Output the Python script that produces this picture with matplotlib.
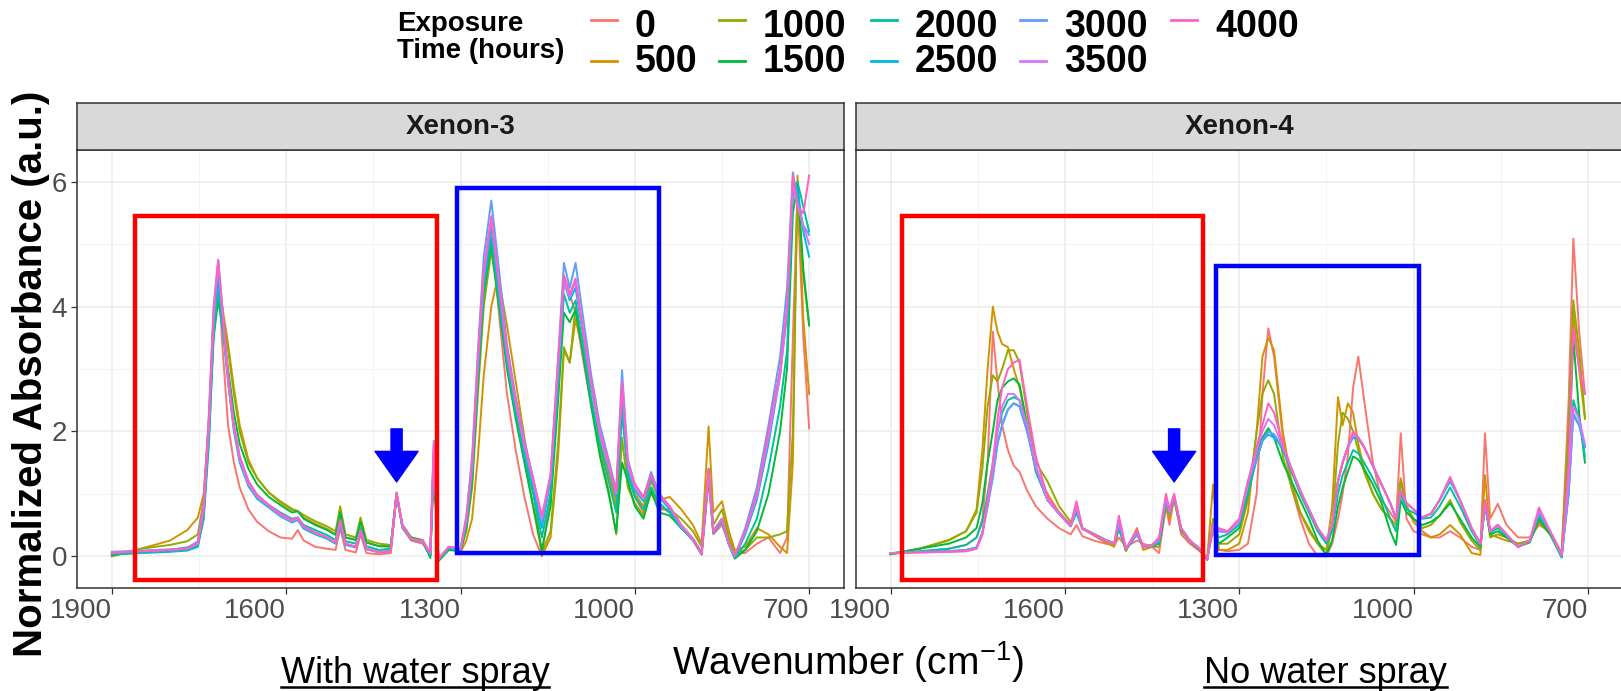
import numpy as np
import matplotlib.pyplot as plt
from matplotlib.lines import Line2D
from matplotlib.patches import Rectangle

plt.rcParams['font.family'] = ['Liberation Sans', 'DejaVu Sans']
plt.rcParams['mathtext.default'] = 'regular'

W, H = 1621, 691

# exposure times and ggplot hue colours
times = ['0', '500', '1000', '1500', '2000', '2500', '3000', '3500', '4000']
colors = ['#F8766D', '#D39200', '#93AA00', '#00BA38', '#00C19F',
          '#00B9E3', '#619CFF', '#DB72FB', '#FF61C3']
panels = ['Xenon-3', 'Xenon-4']
captions = ['With water spray', 'No water spray']

# ---- Xenon-3 (with water spray) ----
wn_x3 = [1900,1850,1800,1770,1752,1742,1733,1725,1717,1710, 1700,1690,1680,1665,1650,1630,1610,1590,1580,1570,
         1550,1530,1515,1507,1498,1480,1472,1462,1440,1420, 1410,1400,1385,1365,1352,1346,1338,1320,1300,1290,
         1280,1270,1260,1247,1235,1220,1205,1190,1175,1160, 1145,1132,1122,1112,1102,1090,1075,1060,1045,1032,
         1022,1012,1000,985,972,958,940,920,900,885, 873,865,850,838,828,810,790,770,750,738,
         728,720,710,700]
x3_0 = [.04,.07,.09,.11,.18,.6,2.0,3.8,4.6,3.4, 2.1,1.5,1.1,.75,.55,.4,.3,.28,.42,.25,
        .15,.12,.1,.45,.1,.06,.35,.05,.03,.05, .98,.45,.25,.2,.02,1.7,-.05,.12,.1,.55,
        1.4,3.0,4.4,5.2,4.0,2.6,1.7,.95,.35,.0, 1.0,2.9,4.5,4.2,3.9,3.2,2.4,1.8,1.3,.9,
        2.5,1.3,.95,.7,1.0,.8,.7,.45,.25,.02, 1.2,.35,.5,.2,.05,.05,.2,.3,.05,.3,
        3.5,5.8,3.5,2.05]
x3_500 = [.0,.12,.25,.42,.62,1.0,2.2,3.6,4.3,4.0, 3.4,2.7,2.1,1.55,1.25,1.02,.86,.74,.72,.62,
          .52,.44,.35,.7,.3,.26,.55,.22,.16,.15, 1.0,.48,.3,.25,.0,1.6,-.05,.12,.06,.25,
          .6,1.6,2.9,4.0,4.5,3.7,2.8,1.9,1.1,.0, .3,1.6,3.3,3.1,3.8,3.3,2.5,1.8,1.3,.8,
          2.5,1.3,1.0,.8,1.2,.9,.95,.75,.5,.2, 2.08,.7,.88,.4,.1,.15,.45,.35,.15,.05,
          1.5,6.1,3.8,2.6]
x3_1000 = [.0,.12,.18,.24,.35,.9,2.1,3.6,4.25,3.9, 3.3,2.6,2.0,1.5,1.25,1.02,.88,.76,.72,.66,
           .56,.48,.4,.8,.35,.3,.62,.26,.2,.18, 1.02,.5,.3,.26,.0,1.5,-.06,.12,.08,.4,
           1.1,2.6,4.0,4.9,4.1,3.1,2.3,1.55,.8,.05, .4,1.8,3.35,3.1,4.0,3.4,2.5,1.7,1.05,.35,
           1.9,1.1,.85,.65,1.1,.75,.75,.6,.4,.15, 1.4,.5,.75,.3,.05,.1,.3,.3,.35,.4,
           2.0,6.0,4.5,3.7]
x3_1500 = [.02,.06,.10,.14,.22,.7,1.9,3.5,4.1,3.7, 3.0,2.3,1.8,1.4,1.15,.95,.82,.7,.72,.6,
           .5,.42,.34,.7,.3,.26,.55,.22,.16,.16, 1.0,.5,.3,.25,-.03,1.4,-.08,.1,.08,.45,
           1.2,2.8,4.2,5.0,4.1,3.0,2.2,1.5,.8,.1, .8,2.5,3.9,3.75,3.95,3.3,2.4,1.6,1.0,.38,
           1.5,1.2,.8,.6,1.05,.7,.65,.45,.28,.06, 1.3,.4,.6,.2,-.04,.1,.4,1.0,2.0,3.0,
           5.5,5.95,4.6,3.7]
x3_2000 = [.03,.05,.07,.09,.15,.6,1.8,3.5,4.3,3.7, 2.8,2.05,1.55,1.2,.98,.82,.7,.6,.62,.5,
           .42,.34,.26,.6,.24,.2,.45,.16,.1,.12, 1.0,.48,.28,.24,.0,1.5,-.06,.12,.1,.5,
           1.3,2.9,4.3,5.1,4.2,3.1,2.3,1.6,1.0,.3, 1.0,2.7,4.2,3.9,4.1,3.4,2.5,1.8,1.2,.7,
           2.3,1.3,.95,.75,1.1,.85,.7,.45,.26,.04, 1.3,.38,.55,.18,-.03,.2,.6,1.4,2.4,3.3,
           5.9,6.0,5.6,5.2]
x3_2500 = [.05,.07,.08,.10,.18,.7,2.0,3.7,4.5,3.8, 2.8,2.0,1.5,1.12,.92,.78,.64,.54,.58,.44,
           .35,.28,.2,.5,.18,.14,.38,.11,.06,.08, .98,.46,.27,.23,.04,1.6,-.05,.14,.1,.55,
           1.4,3.0,4.4,5.3,4.3,3.2,2.4,1.7,1.1,.45, 1.2,2.9,4.4,4.1,4.3,3.6,2.7,1.95,1.4,.95,
           2.6,1.4,1.05,.88,1.25,.95,.75,.46,.26,.04, 1.3,.38,.56,.18,-.02,.35,.9,1.8,2.9,3.9,
           5.8,5.9,5.2,4.8]
x3_3000 = [.07,.09,.11,.13,.24,.85,2.3,4.0,4.75,4.0, 2.9,2.1,1.6,1.2,.98,.82,.68,.58,.62,.48,
           .38,.3,.22,.55,.2,.15,.4,.12,.07,.09, 1.0,.48,.28,.24,.05,1.85,-.04,.15,.12,.65,
           1.6,3.3,4.8,5.7,4.7,3.4,2.55,1.85,1.25,.55, 1.3,3.2,4.7,4.3,4.7,3.9,2.9,2.1,1.55,1.05,
           2.98,1.55,1.15,.95,1.35,1.0,.8,.5,.28,.05, 1.4,.4,.6,.2,.0,.45,1.1,2.1,3.2,4.3,
           6.15,5.7,5.3,5.15]
x3_3500 = [.06,.08,.10,.12,.20,.75,2.1,3.8,4.7,3.9, 2.8,2.05,1.55,1.15,.95,.8,.66,.56,.6,.47,
           .37,.3,.22,.56,.2,.15,.4,.12,.06,.08, 1.0,.48,.28,.24,.05,1.7,-.04,.15,.12,.58,
           1.45,3.1,4.5,5.4,4.45,3.25,2.45,1.75,1.2,.6, 1.25,3.0,4.4,4.15,4.4,3.65,2.75,1.95,1.45,1.0,
           2.75,1.45,1.1,.92,1.3,.98,.78,.48,.27,.05, 1.35,.4,.58,.2,.0,.4,.95,1.9,2.9,3.9,
           6.0,5.6,5.3,5.0]
x3_4000 = [.05,.08,.10,.12,.22,.8,2.2,3.9,4.75,4.0, 2.9,2.1,1.6,1.2,.98,.82,.68,.58,.62,.48,
           .38,.3,.22,.58,.2,.15,.42,.12,.06,.08, 1.02,.5,.28,.25,.05,1.8,-.05,.15,.12,.6,
           1.5,3.2,4.6,5.45,4.5,3.3,2.5,1.8,1.25,.65, 1.3,3.1,4.5,4.2,4.45,3.7,2.8,2.0,1.5,1.05,
           2.8,1.5,1.15,.95,1.3,1.0,.8,.5,.28,.05, 1.4,.4,.6,.2,.0,.4,1.0,2.0,3.0,4.0,
           6.1,5.6,5.5,6.1]

# ---- Xenon-4 (no water spray) ----
wn_x4 = [1900,1850,1800,1770,1752,1742,1733,1724,1716,1708, 1698,1688,1678,1665,1650,1630,1610,1590,1580,1570,
         1550,1530,1515,1507,1495,1476,1465,1450,1438,1426, 1420,1412,1400,1385,1368,1355,1345,1335,1320,1300,
         1285,1270,1260,1250,1240,1225,1210,1195,1180,1165, 1150,1140,1130,1122,1113,1104,1095,1085,1070,1055,
         1040,1030,1022,1012,1000,985,970,955,937,920, 900,885,877,868,855,840,820,800,784,765,
         745,733,725,715,705]
x4_0 = [.04,.07,.12,.18,.3,.6,1.5,3.6,2.8,2.1, 1.7,1.45,1.35,1.05,.8,.6,.45,.35,.5,.32,
        .25,.2,.18,.3,.15,.25,.2,.15,.05,.8, .5,.95,.35,.2,.08,-.03,.4,.1,.08,.1,
        .2,1.0,2.6,3.65,3.2,1.9,1.1,.6,.2,.0, .0,.2,.6,1.0,1.6,2.7,3.2,2.5,1.5,.9,
        .7,.55,1.97,.6,.4,.35,.3,.3,.4,.3, .15,.1,1.97,.6,.84,.5,.3,.3,.5,.4,
        .05,2.5,5.09,3.6,2.6]
x4_500 = [.03,.12,.25,.4,.75,1.7,3.0,4.0,3.6,3.4, 3.35,3.0,2.7,2.1,1.4,1.0,.7,.5,.85,.45,
          .33,.22,.15,.45,.08,.45,.1,.15,.15,.8, .6,.9,.4,.25,.1,-.04,1.15,.1,.1,.2,
          .7,2.0,3.2,3.5,3.3,2.0,1.2,.7,.4,.2, .1,.8,2.55,2.1,2.45,2.3,1.8,1.4,1.0,.75,
          .6,.5,1.25,.8,.55,.4,.3,.35,.5,.35, .05,.02,1.3,.35,.3,.25,.2,.25,.55,.35,
          .05,2.0,3.9,3.0,2.2]
x4_1000 = [.03,.12,.26,.4,.7,1.4,2.4,2.9,2.8,3.0, 3.3,3.3,3.1,2.3,1.5,1.2,.8,.55,.75,.45,
           .36,.26,.2,.5,.1,.4,.15,.18,.2,.85, .7,.95,.42,.25,.1,-.05,.6,.2,.2,.35,
           .9,2.0,2.6,2.82,2.6,1.6,1.1,.7,.45,.2, .02,.5,1.8,2.3,2.2,2.0,1.7,1.35,1.0,.75,
           .6,.4,1.2,.8,.6,.45,.5,.65,.9,.55, .25,.1,.9,.3,.35,.3,.2,.25,.55,.35,
           .05,2.0,4.1,3.3,2.23]
x4_1500 = [.04,.12,.2,.3,.45,.85,1.5,2.0,2.5,2.7, 2.8,2.85,2.75,2.1,1.35,.9,.7,.5,.7,.45,
           .35,.25,.2,.45,.1,.35,.15,.16,.2,.85, .7,.95,.42,.24,.1,-.06,.5,.2,.3,.45,
           1.0,1.6,1.9,2.05,1.9,1.5,1.2,.9,.6,.25, .02,.25,.8,1.1,1.35,1.6,1.55,1.4,1.15,.85,
           .4,.18,.9,.7,.6,.5,.55,.65,.85,.6, .3,.15,.8,.35,.4,.3,.15,.22,.6,.35,
           -.02,1.5,3.5,2.3,1.5]
x4_2000 = [.04,.08,.12,.18,.3,.55,1.0,1.5,2.0,2.3, 2.5,2.55,2.5,2.05,1.4,.9,.68,.48,.7,.44,
           .34,.25,.2,.45,.12,.35,.15,.17,.2,.85, .7,.95,.44,.25,.12,-.05,.5,.3,.35,.5,
           1.0,1.55,1.85,2.0,1.95,1.7,1.35,1.0,.7,.4, .2,.4,1.0,1.3,1.5,1.7,1.65,1.5,1.25,.95,
           .6,.4,1.0,.75,.7,.6,.62,.8,1.1,.8, .4,.18,.8,.38,.45,.32,.15,.25,.65,.38,
           -.02,1.1,2.5,2.2,1.6]
x4_2500 = [.05,.07,.08,.1,.14,.38,.8,1.3,1.8,2.1, 2.35,2.45,2.4,2.0,1.4,.9,.68,.48,.75,.44,
           .35,.26,.21,.5,.12,.35,.15,.18,.25,.9, .7,.95,.45,.25,.12,-.04,.5,.4,.38,.55,
           1.15,1.55,1.85,1.95,1.9,1.75,1.4,1.05,.75,.45, .25,.5,1.2,1.5,1.75,1.9,1.88,1.75,1.45,1.15,
           .85,.6,1.05,.85,.75,.62,.68,.9,1.2,.9, .45,.2,.85,.4,.5,.35,.15,.25,.7,.4,
           .0,1.0,2.25,2.1,1.75]
x4_3000 = [.05,.07,.08,.1,.14,.38,.8,1.25,1.8,2.1, 2.35,2.45,2.4,2.0,1.4,.9,.68,.48,.75,.44,
           .35,.26,.21,.5,.12,.35,.15,.18,.25,.9, .7,.95,.45,.25,.12,-.04,.5,.4,.38,.55,
           1.2,1.55,1.85,2.0,1.95,1.75,1.4,1.05,.75,.45, .25,.5,1.2,1.5,1.75,1.95,1.9,1.75,1.45,1.15,
           .85,.6,1.05,.85,.75,.62,.68,.9,1.25,.9, .45,.2,.85,.4,.5,.35,.15,.25,.7,.4,
           .0,1.0,2.3,2.1,1.75]
x4_3500 = [.05,.06,.07,.08,.12,.35,.85,1.4,2.0,2.4, 2.6,2.6,2.5,2.1,1.45,.9,.68,.48,.8,.44,
           .34,.25,.2,.6,.12,.4,.15,.17,.28,.95, .72,.98,.44,.25,.12,-.04,.5,.42,.38,.55,
           1.15,1.7,2.0,2.2,2.1,1.75,1.4,1.05,.75,.45, .25,.5,1.2,1.5,1.75,1.95,1.9,1.75,1.45,1.15,
           .85,.6,1.05,.85,.75,.62,.68,.9,1.25,.9, .45,.2,.85,.4,.5,.35,.15,.25,.75,.4,
           .02,1.2,2.4,2.2,1.8]
x4_4000 = [.05,.06,.07,.08,.12,.35,.9,1.5,2.2,2.7, 3.0,3.1,3.15,2.4,1.6,.95,.7,.5,.88,.45,
           .35,.25,.2,.65,.12,.42,.15,.18,.3,1.0, .75,1.0,.45,.25,.12,-.04,.5,.45,.4,.6,
           1.2,1.75,2.1,2.45,2.3,1.8,1.4,1.05,.75,.45, .25,.5,1.2,1.5,1.75,2.0,1.9,1.75,1.45,1.15,
           .85,.6,1.05,.85,.75,.62,.68,.9,1.27,.9, .45,.2,.9,.4,.5,.35,.15,.25,.78,.4,
           .02,1.5,3.65,3.0,2.6]

x3_curves = [x3_0, x3_500, x3_1000, x3_1500, x3_2000, x3_2500, x3_3000, x3_3500, x3_4000]
x4_curves = [x4_0, x4_500, x4_1000, x4_1500, x4_2000, x4_2500, x4_3000, x4_3500, x4_4000]

# highlighted regions (wavenumber from, to, absorbance from, to)
red_box = [(1860, 1341, -0.38, 5.45), (1881, 1362, -0.38, 5.45)]
blue_box = [(1306, 958, 0.05, 5.9), (1340, 990, 0.02, 4.65)]
arrow_x = [1410, 1412]
arrow_y = (2.04, 1.19)


def px(x, y):
    return x / W, 1 - y / H


fig = plt.figure(figsize=(W / 100, H / 100), dpi=100)
lefts = [77, 855.7]
grey20 = '#333333'

for i, (name, wn, curves) in enumerate(zip(panels, [wn_x3, wn_x4], [x3_curves, x4_curves])):
    left = lefts[i]
    ax = fig.add_axes([left / W, (H - 588) / H, 767 / W, 438 / H])
    for ys, col in zip(curves, colors):
        ax.plot(wn, ys, color=col, lw=1.4, solid_joinstyle='round')
    ax.set_xlim(1960, 640)
    ax.set_ylim(-0.51, 6.51)
    ax.set_xticks([1900, 1600, 1300, 1000, 700])
    ax.set_xticks([1750, 1450, 1150, 850], minor=True)
    ax.set_yticks([0, 2, 4, 6])
    ax.set_yticks([1, 3, 5], minor=True)
    ax.grid(which='major', color='#EBEBEB', lw=1.1)
    ax.grid(which='minor', color='#F2F2F2', lw=0.6)
    ax.set_axisbelow(True)
    for sp in ax.spines.values():
        sp.set_color(grey20)
        sp.set_linewidth(1.1)
    ax.tick_params(which='major', direction='out', length=4, width=0.9, color=grey20,
                   labelsize=20, labelcolor='#4D4D4D', pad=3)
    ax.tick_params(which='minor', length=0)
    for lbl in ax.get_xticklabels():
        lbl.set_ha('right')
    if i == 1:
        ax.tick_params(axis='y', which='both', left=False, labelleft=False)

    x0, x1, y0, y1 = red_box[i]
    ax.add_patch(Rectangle((min(x0, x1), y0), abs(x1 - x0), y1 - y0, fill=False,
                           edgecolor='#FF0000', lw=3.2, zorder=5))
    x0, x1, y0, y1 = blue_box[i]
    ax.add_patch(Rectangle((min(x0, x1), y0), abs(x1 - x0), y1 - y0, fill=False,
                           edgecolor='#0000FF', lw=3.2, zorder=5))
    ax.annotate('', xy=(arrow_x[i], arrow_y[1]), xytext=(arrow_x[i], arrow_y[0]),
                arrowprops=dict(arrowstyle='simple,head_length=1.1,head_width=1.55,tail_width=0.4',
                                mutation_scale=20, color='#0000FF', shrinkA=0, shrinkB=0),
                zorder=6)

    # facet strip
    sax = fig.add_axes([left / W, (H - 150) / H, 767 / W, 47 / H])
    sax.set_facecolor('#D9D9D9')
    sax.set_xticks([])
    sax.set_yticks([])
    for sp in sax.spines.values():
        sp.set_color(grey20)
        sp.set_linewidth(1.1)
    sax.text(0.5, 0.5, name, ha='center', va='center', fontsize=20,
             fontweight='bold', color='#1A1A1A', transform=sax.transAxes)

# axis titles
fig.text(*px(31, 374), 'Normalized Absorbance (a.u.)', rotation=90, ha='center',
         va='center', fontsize=29, fontweight='bold')
fig.text(*px(848, 662), 'Wavenumber (cm$^{-1}$)', ha='center', va='center', fontsize=28)

# captions with underline
renderer = fig.canvas.get_renderer()
for cx, txt in zip([415, 1325], captions):
    t = fig.text(*px(cx, 683), txt, ha='center', va='baseline', fontsize=26)
    bb = t.get_window_extent(renderer).transformed(fig.transFigure.inverted())
    fig.add_artist(Line2D([bb.x0, bb.x1], [1 - 687 / H] * 2, transform=fig.transFigure,
                          color='black', lw=1.8))

# legend
fig.text(*px(397, 24), 'Exposure', ha='left', va='center', fontsize=20, fontweight='bold')
fig.text(*px(397, 51), 'Time (hours)', ha='left', va='center', fontsize=20, fontweight='bold')
col_x = [591, 719, 871, 1020, 1171]
key_y = [20, 61]
lab_base = [37, 72]
for k, (t, c) in enumerate(zip(times, colors)):
    cx = col_x[k // 2]
    r = k % 2
    fig.add_artist(Line2D([cx / W, (cx + 26) / W], [1 - key_y[r] / H] * 2,
                          transform=fig.transFigure, color=c, lw=2.0))
    fig.text(*px(cx + 44, lab_base[r]), t, ha='left', va='baseline', fontsize=27,
             fontweight='bold')

fig.savefig('out.png', dpi=100)
